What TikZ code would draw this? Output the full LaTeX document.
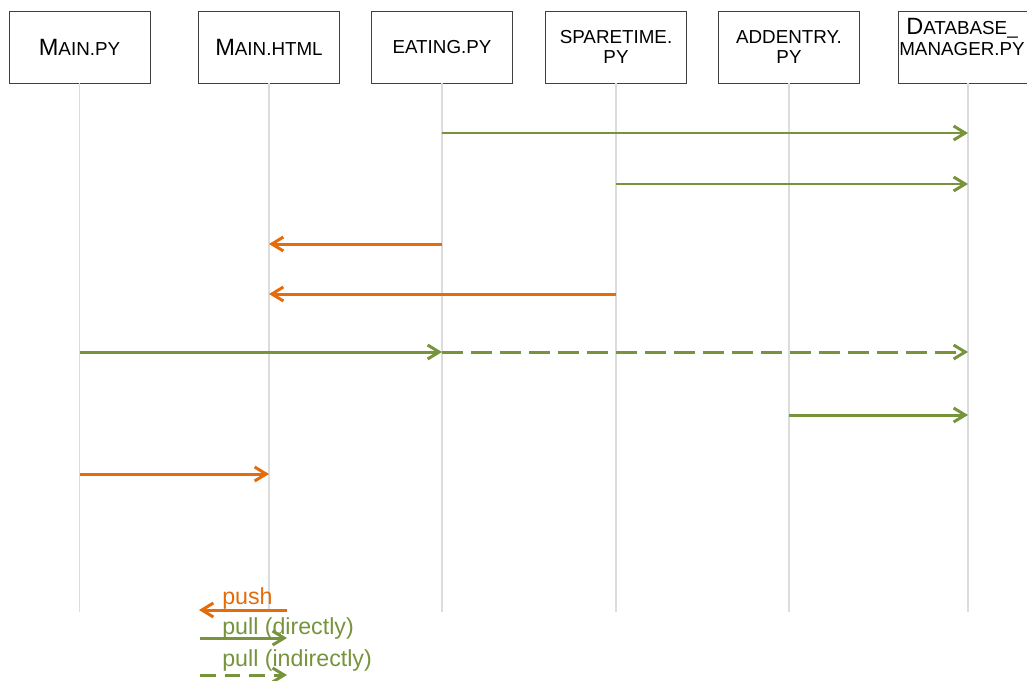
\documentclass[tikz,border=0pt]{standalone}
\usepackage{fontspec}
\setmainfont{Liberation Sans}
\usetikzlibrary{arrows.meta, positioning}
\definecolor{mygreen}{RGB}{119, 147, 60}
\definecolor{myorange}{RGB}{228, 108, 10}
\definecolor{mygray}{RGB}{64, 64, 64}
\definecolor{lightline}{RGB}{220, 220, 220}
\newcommand{\capl}[1]{{\fontsize{13.4}{14}\selectfont #1}}
\tikzset{
    lifebox/.style = {rectangle, draw=mygray, fill=white, minimum width=2.82cm, minimum height=1.44cm, inner sep=1pt, align=center, font=\fontsize{10.7}{11.8}\selectfont},
    lifeline/.style = {draw=lightline, line width=0.6pt},
    msg/.style = {line width=1.7pt, -{Straight Barb[length=2.3mm, width=2.8mm]}},
    push/.style = {msg, myorange},
    pull/.style = {msg, mygreen},
    pullind/.style = {pull, dash pattern=on 12pt off 4.5pt},
    legendtext/.style = {font=\fontsize{13.2}{15}\selectfont, anchor=base west, inner sep=0pt}
}

\begin{document}
\begin{tikzpicture}[x=0.02cm, y=-0.02cm]
  \useasboundingbox (0,0) rectangle (1027,680);
  \clip (0,0) rectangle (1027,680);

  % lifeline heads
  \node[lifebox] (main) at (79.5,47) {\capl{M}AIN.PY};
  \node[lifebox] (html) at (269,47) {\capl{M}AIN.HTML};
  \node[lifebox] (eating) at (442,47) {EATING.PY};
  \node[lifebox] (spare) at (616,47) {SPARETIME.\\PY};
  \node[lifebox] (addentry) at (789,47) {ADDENTRY.\\PY};
  \node[lifebox, minimum width=3cm] (dbm) at (973,47) {};
  \node[align=center, inner sep=0pt, font=\fontsize{10.7}{11.8}\selectfont] (dbmtext) at (962,37) {\capl{D}ATABASE\_\\MANAGER.PY};
  \coordinate (dbmline) at (968,83);

  \foreach \n in {main, html, eating, spare, addentry, dbmline}
    \draw[lifeline] (\n |- 0,83) -- (\n |- 0,612);

  % messages
  \draw[pull] (eating |- 0,133) -- (dbmline |- 0,133);
  \draw[pull] (spare |- 0,184) -- (dbmline |- 0,184);
  \draw[push] (eating |- 0,244) -- (html |- 0,244);
  \draw[push] (spare |- 0,294) -- (html |- 0,294);
  \draw[pull] (main |- 0,352) -- (eating |- 0,352);
  \draw[pullind] (eating |- 0,352) -- (dbmline |- 0,352);
  \draw[pull] (addentry |- 0,415) -- (dbmline |- 0,415);
  \draw[push] (main |- 0,474) -- (html |- 0,474);

  % legend
  \coordinate (pushR) at (287,610);
  \coordinate (pushL) at (199,610);
  \coordinate (pullL) at (200,638);
  \coordinate (pullR) at (287,638);
  \coordinate (indL) at (200,675);
  \coordinate (indR) at (287,675);
  \draw[push] (pushR) -- (pushL);
  \draw[pull] (pullL) -- (pullR);
  \draw[pull, dash pattern=on 9pt off 5pt] (indL) -- (indR);
  \node[legendtext, text=myorange] (pushtext) at (222,604) {push};
  \node[legendtext, text=mygreen] (pulltext) at (222,634) {pull (directly)};
  \node[legendtext, text=mygreen] (indtext) at (222,666) {pull (indirectly)};
\end{tikzpicture}
\end{document}
